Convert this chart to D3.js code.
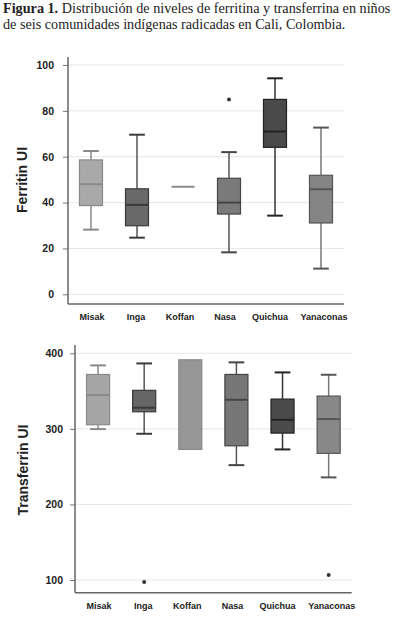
<!DOCTYPE html>
<html><head><meta charset="utf-8">
<script src="https://cdn.jsdelivr.net/npm/d3@7"></script>
<style>body{margin:0;background:#fff}svg{display:block}</style>
</head><body>
<script>
const categories = ["Misak","Inga","Koffan","Nasa","Quichua","Yanaconas"];

// Ferritin UI
const ferLow    = [28.2, 24.7, 46.9, 18.3, 34.3, 11.2];
const ferQ1     = [38.7, 29.9, 46.9, 35.0, 64.1, 31.1];
const ferMedian = [48.0, 39.0, 46.9, 40.0, 71.0, 45.8];
const ferQ3     = [58.6, 46.0, 46.9, 50.6, 85.0, 51.9];
const ferHigh   = [62.5, 69.6, 46.9, 62.0, 94.2, 72.7];
const ferOutliers = [[], [], [], [85.0], [], []];
const ferTicks = [0, 20, 40, 60, 80, 100];

// Transferrin UI
const trfLow    = [299.7, 293.5, 272.8, 252.0, 272.8, 235.8];
const trfQ1     = [305.5, 322.6, 272.8, 277.6, 294.4, 267.6];
const trfMedian = [344.7, 328.0, null,  338.5, 312.0, 313.0];
const trfQ3     = [372.0, 351.0, 391.4, 372.0, 339.4, 343.4];
const trfHigh   = [384.0, 386.6, 391.4, 388.0, 374.7, 371.6];
const trfOutliers = [[], [97.4], [], [], [], [106.6]];
const trfTicks = [100, 200, 300, 400];

const fills  = ["#a9a9a9", "#696969", "#969696", "#7a7a7a", "#4a4a4a", "#858585"];
const lines  = ["#8a8a8a", "#3a3a3a", "#8a8a8a", "#454545", "#222222", "#555555"];
const whisk  = ["#8a8a8a", "#555555", "#8a8a8a", "#555555", "#333333", "#777777"];
const labelShift = [1, -1, -3, -4, -5, 3];

const W = 398, H = 625;
const svg = d3.select("body").append("svg").attr("width", W).attr("height", H);

// Title
const title = svg.append("text").attr("font-family", "'Liberation Serif', 'DejaVu Serif', serif")
  .attr("font-size", 14.2).attr("fill", "#222");
const t1 = title.append("tspan").attr("x", 3).attr("y", 13);
t1.append("tspan").attr("font-weight", "bold").text("Figura 1.");
t1.append("tspan").text(" Distribución de niveles de ferritina y transferrina en niños");
title.append("tspan").attr("x", 3).attr("y", 29).text("de seis comunidades indígenas radicadas en Cali, Colombia.");

function boxChart(cfg) {
  const g = svg.append("g");
  const x = d3.scaleBand().domain(categories).range([cfg.x0, cfg.x1]).paddingInner(0.5).paddingOuter(0.25);
  const y = d3.scaleLinear().domain(cfg.domain).range(cfg.yrange);

  // gridlines
  g.selectAll("line.grid").data(cfg.ticks).join("line")
    .attr("x1", cfg.x0).attr("x2", cfg.x1)
    .attr("y1", d => y(d)).attr("y2", d => y(d))
    .attr("stroke", "#e6e6e6").attr("stroke-width", 1);

  // axes
  const yAxis = d3.axisLeft(y).tickValues(cfg.ticks).tickSize(5).tickPadding(cfg.tickPad);
  const ya = g.append("g").attr("transform", `translate(${cfg.x0},0)`).call(yAxis);
  ya.select(".domain").remove();
  ya.selectAll(".tick line").attr("stroke", "#777");
  ya.selectAll(".tick text").attr("font-family", "'Liberation Sans', Arial, sans-serif")
    .attr("font-weight", "bold").attr("font-size", 10.5).attr("fill", "#222");
  g.append("line").attr("x1", cfg.x0).attr("x2", cfg.x0).attr("y1", cfg.axTop).attr("y2", cfg.axBottom)
    .attr("stroke", "#666").attr("stroke-width", 1.5);
  g.append("line").attr("x1", cfg.x0).attr("x2", cfg.x1).attr("y1", cfg.axBottom).attr("y2", cfg.axBottom)
    .attr("stroke", "#666").attr("stroke-width", 1.5);

  const xAxis = d3.axisBottom(x).tickSize(0).tickPadding(0);
  const xa = g.append("g").attr("transform", `translate(0,${cfg.labelY})`).call(xAxis);
  xa.select(".domain").remove();
  xa.selectAll(".tick text").attr("font-family", "'Liberation Sans', Arial, sans-serif")
    .attr("font-weight", "bold").attr("font-size", 9).attr("fill", "#222").attr("dy", "0.71em")
    .attr("dx", (d, i) => labelShift[i]);

  // axis title
  g.append("text").attr("transform", `translate(${cfg.titleX},${cfg.titleY}) rotate(-90)`)
    .attr("text-anchor", "middle").attr("dominant-baseline", "central")
    .attr("font-family", "'Liberation Sans', Arial, sans-serif").attr("font-weight", "bold")
    .attr("font-size", 14).attr("fill", "#222").text(cfg.title);

  const bw = x.bandwidth();
  const capW = bw * 0.68;
  categories.forEach((c, i) => {
    const cx = x(c) + bw / 2;
    const bg = g.append("g");
    // whiskers
    bg.append("line").attr("x1", cx).attr("x2", cx).attr("y1", y(cfg.high[i])).attr("y2", y(cfg.q3[i]))
      .attr("stroke", whisk[i]).attr("stroke-width", 1.5);
    bg.append("line").attr("x1", cx).attr("x2", cx).attr("y1", y(cfg.q1[i])).attr("y2", y(cfg.low[i]))
      .attr("stroke", whisk[i]).attr("stroke-width", 1.5);
    if (cfg.high[i] !== cfg.q3[i]) bg.append("line").attr("x1", cx - capW/2).attr("x2", cx + capW/2)
      .attr("y1", y(cfg.high[i])).attr("y2", y(cfg.high[i])).attr("stroke", lines[i]).attr("stroke-width", 2);
    if (cfg.low[i] !== cfg.q1[i]) bg.append("line").attr("x1", cx - capW/2).attr("x2", cx + capW/2)
      .attr("y1", y(cfg.low[i])).attr("y2", y(cfg.low[i])).attr("stroke", lines[i]).attr("stroke-width", 2);
    // box
    const h = y(cfg.q1[i]) - y(cfg.q3[i]);
    if (h > 0) bg.append("rect").attr("x", x(c)).attr("width", bw).attr("y", y(cfg.q3[i])).attr("height", h)
      .attr("fill", cfg.fills[i]).attr("stroke", lines[i]).attr("stroke-width", 1.2);
    // median
    if (cfg.median[i] != null) bg.append("line").attr("x1", x(c)).attr("x2", x(c) + bw)
      .attr("y1", y(cfg.median[i])).attr("y2", y(cfg.median[i]))
      .attr("stroke", h > 0 ? lines[i] : "#8a8a8a").attr("stroke-width", 2);
    // outliers
    bg.selectAll("circle").data(cfg.outliers[i]).join("circle")
      .attr("cx", cx).attr("cy", d => y(d)).attr("r", 2).attr("fill", "#333");
  });
}

boxChart({
  x0: 68, x1: 344, domain: [0, 100], yrange: [294.3, 65], ticks: ferTicks,
  axTop: 57, axBottom: 304, labelY: 314, tickPad: 9, titleX: 22, titleY: 180, title: "Ferritin UI",
  low: ferLow, q1: ferQ1, median: ferMedian, q3: ferQ3, high: ferHigh, outliers: ferOutliers, fills: fills
});

boxChart({
  x0: 75, x1: 351.7, domain: [100, 400], yrange: [580, 353.3], ticks: trfTicks,
  axTop: 345, axBottom: 592.7, labelY: 603, tickPad: 7, titleX: 23, titleY: 470, title: "Transferrin UI",
  low: trfLow, q1: trfQ1, median: trfMedian, q3: trfQ3, high: trfHigh, outliers: trfOutliers,
  fills: ["#a6a6a6", "#666666", "#969696", "#777777", "#4b4b4b", "#888888"]
});
</script>
</body></html>
